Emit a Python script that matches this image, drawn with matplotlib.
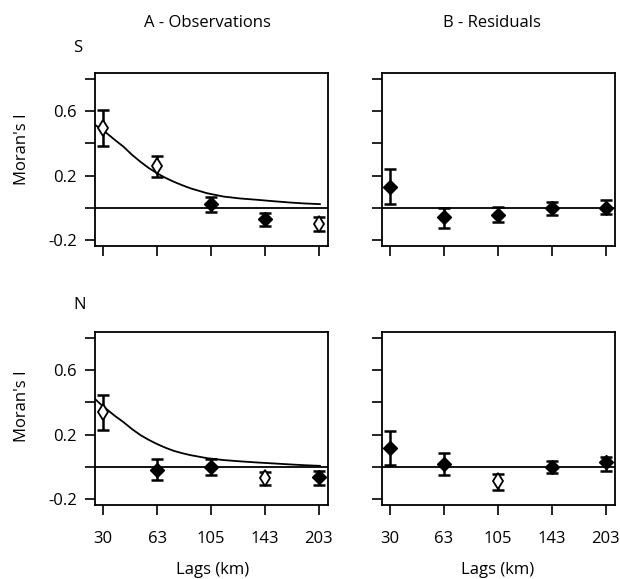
import matplotlib

matplotlib.use("Agg")
import matplotlib.pyplot as plt

plt.rcParams["font.family"] = ["Open Sans", "DejaVu Sans"]

# x categories (lag distance classes)
lags = ["30", "63", "105", "143", "203"]
pos = [1, 2, 3, 4, 5]

# S - observations
s_obs = [0.493, 0.26, 0.025, -0.068, -0.101]
s_obs_lo = [0.386, 0.19, -0.029, -0.111, -0.142]
s_obs_hi = [0.607, 0.324, 0.07, -0.033, -0.06]
s_obs_open = [True, True, False, False, True]

# S - residuals
s_res = [0.132, -0.058, -0.043, 0.002, 0.0]
s_res_lo = [0.023, -0.126, -0.091, -0.043, -0.037]
s_res_hi = [0.24, 0.002, 0.008, 0.039, 0.05]
s_res_open = [False, False, False, False, False]

# N - observations
n_obs = [0.34, -0.02, -0.004, -0.07, -0.066]
n_obs_lo = [0.231, -0.083, -0.052, -0.112, -0.112]
n_obs_hi = [0.444, 0.048, 0.048, -0.031, -0.025]
n_obs_open = [True, False, False, True, False]

# N - residuals
n_res = [0.117, 0.017, -0.091, 0.0, 0.027]
n_res_lo = [0.01, -0.052, -0.144, -0.041, -0.025]
n_res_hi = [0.221, 0.086, -0.046, 0.038, 0.063]
n_res_open = [False, False, True, False, False]

# fitted decay curves
curve_x = [0.852, 0.96, 1.068, 1.22, 1.376, 1.53, 1.685, 1.84, 1.994, 2.15, 2.30,
           2.46, 2.61, 2.92, 3.23, 3.54, 3.85, 4.16, 4.46, 4.74, 5.02]
s_curve = [0.514, 0.488, 0.462, 0.420, 0.379, 0.330, 0.287, 0.248, 0.215, 0.187, 0.163,
           0.141, 0.122, 0.091, 0.070, 0.058, 0.050, 0.041, 0.033, 0.027, 0.023]
n_curve = [0.419, 0.386, 0.356, 0.315, 0.277, 0.235, 0.198, 0.168, 0.142, 0.119, 0.100,
           0.085, 0.073, 0.054, 0.042, 0.034, 0.027, 0.021, 0.015, 0.010, 0.006]

yticks = [-0.2, 0.0, 0.2, 0.4, 0.6, 0.8]
ytick_labels = ["-0.2", "", "0.2", "", "0.6", ""]


def panel(ax, vals, lo, hi, is_open, curve=None, ylabels=True, xlabels=True):
    ax.axhline(0, color="black", lw=1.3, zorder=1)
    if curve is not None:
        ax.plot(curve_x, curve, color="black", lw=1.3, zorder=2)
    err = [[v - l for v, l in zip(vals, lo)], [h - v for v, h in zip(vals, hi)]]
    ax.errorbar(pos, vals, yerr=err, fmt="none", ecolor="black",
                elinewidth=1.8, capsize=4.5, capthick=1.8, zorder=3)
    for x, v, o in zip(pos, vals, is_open):
        if o:
            ax.plot(x, v, marker="d", ms=8.5, mfc="white", mec="black", mew=1.3, zorder=4)
        else:
            ax.plot(x, v, marker="D", ms=7, mfc="black", mec="black", zorder=4)
    ax.set_xlim(0.846, 5.17)
    ax.set_ylim(-0.237, 0.837)
    ax.set_xticks(pos)
    ax.set_xticklabels(lags if xlabels else [])
    ax.set_yticks(yticks)
    ax.set_yticklabels(ytick_labels if ylabels else [])
    ax.tick_params(axis="y", direction="out", length=7, width=1.2, pad=6, labelsize=12)
    ax.tick_params(axis="x", direction="out", length=7, width=1.2, pad=12, labelsize=12)
    for sp in ax.spines.values():
        sp.set_linewidth(1.3)


fig = plt.figure(figsize=(6.2, 5.79), dpi=100)
W, H = 620, 579
w, h = 233 / W, 173 / H
ax_tl = fig.add_axes([95 / W, 1 - 246 / H, w, h])
ax_tr = fig.add_axes([381.7 / W, 1 - 246 / H, w, h])
ax_bl = fig.add_axes([95 / W, 1 - 505 / H, w, h])
ax_br = fig.add_axes([381.7 / W, 1 - 505 / H, w, h])

panel(ax_tl, s_obs, s_obs_lo, s_obs_hi, s_obs_open, curve=s_curve, xlabels=False)
panel(ax_tr, s_res, s_res_lo, s_res_hi, s_res_open, ylabels=False, xlabels=False)
panel(ax_bl, n_obs, n_obs_lo, n_obs_hi, n_obs_open, curve=n_curve)
panel(ax_br, n_res, n_res_lo, n_res_hi, n_res_open, ylabels=False)

fs = 12
fig.text(207 / W, 1 - 23 / H, "A - Observations", ha="center", va="center", fontsize=fs)
fig.text(492 / W, 1 - 23 / H, "B - Residuals", ha="center", va="center", fontsize=fs)
fig.text(78 / W, 1 - 48 / H, "S", ha="center", va="center", fontsize=fs)
fig.text(80 / W, 1 - 305 / H, "N", ha="center", va="center", fontsize=fs)
fig.text(22 / W, 1 - 149 / H, "Moran's I", ha="center", va="center", rotation=90, fontsize=fs)
fig.text(22 / W, 1 - 406 / H, "Moran's I", ha="center", va="center", rotation=90, fontsize=fs)
fig.text(213 / W, 1 - 570 / H, "Lags (km)", ha="center", va="center", fontsize=fs)
fig.text(498 / W, 1 - 570 / H, "Lags (km)", ha="center", va="center", fontsize=fs)

fig.savefig("out.png", dpi=100)
